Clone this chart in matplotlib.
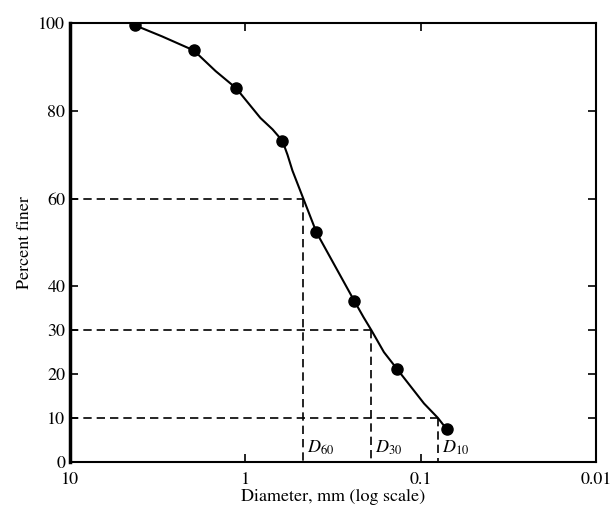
import matplotlib
matplotlib.use("Agg")
import matplotlib.pyplot as plt

plt.rcParams['font.family'] = ['STIXGeneral', 'DejaVu Serif']
plt.rcParams['mathtext.fontset'] = 'stix'

# sieve data points
diam_pts = [4.25, 1.97, 1.13, 0.615, 0.393, 0.240, 0.136, 0.0709]
finer_pts = [99.5, 93.8, 85.2, 73.2, 52.3, 36.7, 21.1, 7.4]

# smooth grading curve
diam_curve = [4.25, 2.99, 1.97, 1.48, 1.13, 0.821, 0.70, 0.615, 0.575,
              0.539, 0.467, 0.393, 0.298, 0.240, 0.212, 0.191, 0.162,
              0.136, 0.0957, 0.0797, 0.0709]
finer_curve = [99.5, 97.0, 93.8, 89.1, 85.2, 78.4, 75.8, 73.2, 70.0,
               66.4, 60.0, 52.3, 43.6, 36.8, 33.0, 30.0, 25.0,
               21.1, 13.3, 10.0, 7.4]

# characteristic sizes
d_labels = ['$D_{60}$', '$D_{30}$', '$D_{10}$']
d_vals = [0.467, 0.191, 0.0797]
d_pcts = [60, 30, 10]

y_ticks = [0, 10, 20, 30, 40, 60, 80, 100]
x_ticks = [10, 1, 0.1, 0.01]
x_ticklabels = ['10', '1', '0.1', '0.01']

fig = plt.figure(figsize=(6.15, 5.16), dpi=100)
ax = fig.add_axes([0.114, 0.105, 0.855, 0.850])

ax.plot(diam_curve, finer_curve, color='black', lw=1.5)
ax.plot(diam_pts, finer_pts, 'o', color='black', ms=8)

for lab, d, p in zip(d_labels, d_vals, d_pcts):
    ax.plot([10, d], [p, p], color='black', ls=(0, (5, 3)), lw=1.2)
    ax.plot([d, d], [p, 0], color='black', ls=(0, (5, 3)), lw=1.2)
    ax.text(d * 0.95, 1.2, lab, fontsize=13, ha='left', va='bottom')

ax.set_xscale('log')
ax.set_xlim(10, 0.01)
ax.set_ylim(0, 100)
ax.set_xticks(x_ticks)
ax.set_xticklabels(x_ticklabels)
ax.minorticks_off()
ax.set_yticks(y_ticks)
ax.tick_params(direction='in', length=6, width=1.2, labelsize=13,
               top=True, right=True)
ax.tick_params(axis='x', pad=7)
for s in ax.spines.values():
    s.set_linewidth(1.5)
ax.spines['left'].set_linewidth(2.5)

ax.set_xlabel('Diameter, mm (log scale)', fontsize=13, labelpad=1)
ax.set_ylabel('Percent finer', fontsize=13, labelpad=4)

fig.savefig('out.png', dpi=100)
